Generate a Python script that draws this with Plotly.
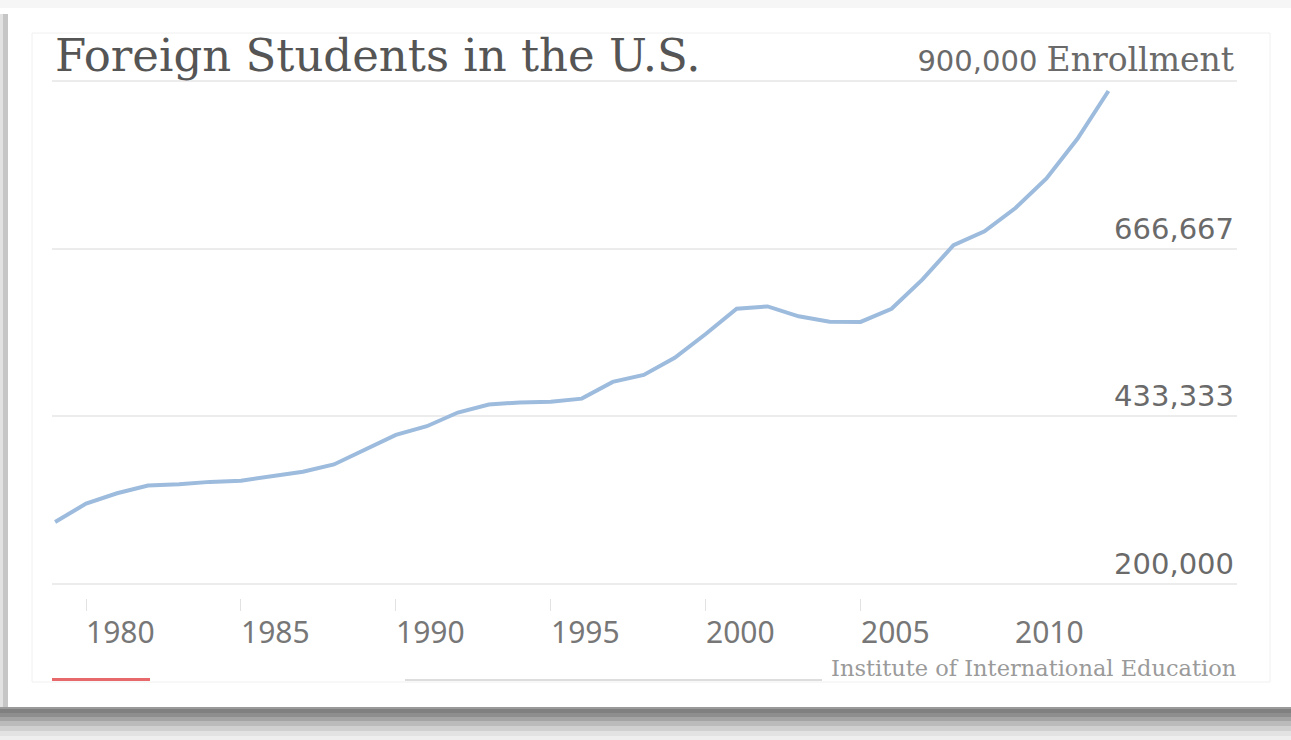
import plotly.graph_objects as go

# ---- data ----
years = list(range(1979, 2014))
enrollment = [
    286340, 311880, 326300, 336990, 338890, 342110, 343780, 349610, 356190, 366350,
    386850, 407530, 419590, 438620, 449750, 452635, 453787, 457984, 481280, 490933,
    514723, 547867, 582996, 586323, 572509, 565039, 564766, 582984, 623805, 671616,
    690923, 723277, 764495, 819644, 886052,
]
x_tick_vals = [1980, 1985, 1990, 1995, 2000, 2005, 2010]
x_tick_text = ["1980", "1985", "1990", "1995", "2000", "2005", "2010"]
y_tick_vals = [200000, 433333, 666667, 900000]
y_tick_text = ["200,000", "433,333", "666,667",
               "900,000 <span style='font-family:DejaVu Serif;font-size:33px'>Enrollment</span>"]
title_text = "Foreign Students in the U.S."
source_text = "Institute of International Education"

# ---- geometry helpers (pixel -> paper) ----
W, H = 1291, 740
L, R, T, B = 52, 54, 38, 142
PW, PH = W - L - R, H - T - B


def px(x):
    return (x - L) / PW


def py(y):
    return (H - B - y) / PH


fig = go.Figure()
fig.add_trace(go.Scatter(
    x=years, y=enrollment, mode="lines",
    line=dict(color="#9dbbdd", width=4),
    hoverinfo="x+y", showlegend=False,
))

shapes = []
# card shadow: top strip, left strip, bottom curl
shapes.append(dict(type="rect", xref="paper", yref="paper", x0=px(0), x1=px(W), y0=py(0), y1=py(8),
                   fillcolor="#f6f6f6", line=dict(width=0), layer="below"))
shapes.append(dict(type="rect", xref="paper", yref="paper", x0=px(0), x1=px(3), y0=py(14), y1=py(707),
                   fillcolor="#e2e2e2", line=dict(width=0), layer="below"))
shapes.append(dict(type="rect", xref="paper", yref="paper", x0=px(3), x1=px(8), y0=py(14), y1=py(707),
                   fillcolor="#c6c6c6", line=dict(width=0), layer="below"))
bands = [(707, 709, "#9a9a9a"), (709, 713, "#808080"), (713, 717, "#8e8e8e"), (717, 721, "#a4a4a4"),
         (721, 726, "#bbbbbb"), (726, 731, "#d0d0d0"), (731, 736, "#e2e2e2"), (736, 741, "#eeeeee")]
for y0, y1, c in bands:
    shapes.append(dict(type="rect", xref="paper", yref="paper", x0=px(0), x1=px(W), y0=py(y1), y1=py(y0),
                       fillcolor=c, line=dict(width=0), layer="below"))
# inner faint frame
shapes.append(dict(type="rect", xref="paper", yref="paper", x0=px(32), x1=px(1270), y0=py(682), y1=py(33),
                   fillcolor="rgba(0,0,0,0)", line=dict(color="#f0f0f0", width=1), layer="below"))
# red accent bar and clipped credit line
shapes.append(dict(type="rect", xref="paper", yref="paper", x0=px(52), x1=px(150), y0=py(681), y1=py(678),
                   fillcolor="#e8696b", line=dict(width=0)))
shapes.append(dict(type="rect", xref="paper", yref="paper", x0=px(405), x1=px(822), y0=py(681), y1=py(679),
                   fillcolor="#dddddd", line=dict(width=0)))

annotations = [
    dict(text=title_text, xref="paper", yref="paper", x=px(53), y=py(55), xanchor="left", yanchor="middle",
         showarrow=False, font=dict(family="DejaVu Serif", size=45, color="#555555")),
    dict(text=source_text, xref="paper", yref="paper", x=px(1238), y=py(668), xanchor="right", yanchor="middle",
         showarrow=False, font=dict(family="DejaVu Serif", size=22.5, color="#9a9a9a")),
]
# x tick labels, left-aligned at each tick (placed through the x axis scale)
for v, t in zip(x_tick_vals, x_tick_text):
    annotations.append(dict(text=t, xref="x", yref="paper", x=v, y=py(631), xanchor="left",
                            yanchor="middle", xshift=-2, showarrow=False,
                            font=dict(family="Noto Sans", size=30, color="#777777")))

fig.update_layout(
    width=W, height=H, autosize=False,
    margin=dict(l=L, r=R, t=T, b=B, pad=0),
    paper_bgcolor="white", plot_bgcolor="white",
    shapes=shapes, annotations=annotations,
    xaxis=dict(
        range=[1978.9, 2017.15], tickvals=x_tick_vals, ticks="outside", ticklen=12, tickwidth=1,
        tickcolor="#e2e2e2", showgrid=False, zeroline=False, showline=False, showticklabels=False,
    ),
    yaxis=dict(
        range=[180517, 900000 + (81 - T) * 1391.6], tickvals=y_tick_vals, ticktext=y_tick_text, side="right",
        ticklabelposition="inside top", showgrid=True, gridcolor="#ececec", gridwidth=1.5,
        zeroline=False, showline=False, ticks="",
        tickfont=dict(family="DejaVu Sans", size=29, color="#6a6a6a"),
    ),
)

fig.write_html("out.html", config={"displayModeBar": False},
               post_script="document.body.style.margin='0';document.body.style.overflow='hidden';")
